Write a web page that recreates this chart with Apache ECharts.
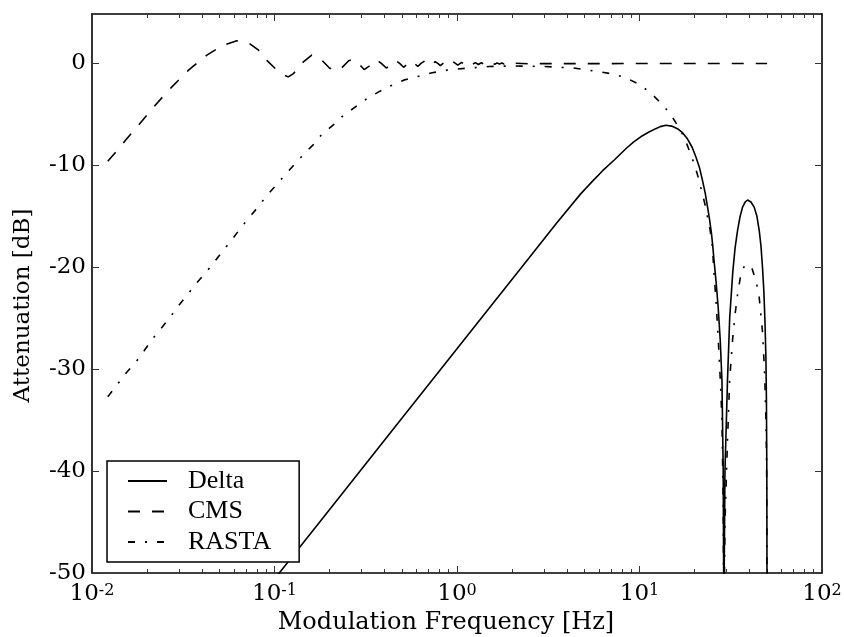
<!DOCTYPE html>
<html>
<head>
<meta charset="utf-8">
<script src="https://cdn.jsdelivr.net/npm/echarts@6/dist/echarts.min.js"></script>
<style>
html,body{margin:0;padding:0;background:#fff;}
#chart{width:844px;height:637px;}
</style>
</head>
<body>
<div id="chart"></div>
<script>
// ---- data ----
const seriesNames = ['Delta', 'CMS', 'RASTA'];

const deltaFreq = [0.0122, 0.09, 0.1062, 0.2, 0.5, 1.0, 2.53, 3.5, 4.76, 5.5, 6.3, 7.25, 8.5, 9.3, 10.16, 11.2, 12.27, 13.0, 13.93, 15.0, 16.14, 17.2, 18.3, 19.4, 20.4, 21.3, 22.15, 22.9, 23.6, 24.2, 24.8, 25.2, 25.6, 26.3, 27.0, 27.7, 28.3, 28.75, 28.95, 29.0, 29.05, 29.4, 30.35, 31.2, 32.4, 33.4, 34.45, 35.5, 36.7, 37.9, 39.1, 40.8, 42.5, 44.0, 45.3, 46.3, 47.2, 48.0, 48.7, 49.3, 49.6, 49.85, 49.97, 50.0];
const deltaDb   = [-71, -51.6, -50.0, -43.8, -34.8, -28.0, -18.9, -15.7, -12.8, -11.6, -10.5, -9.5, -8.3, -7.7, -7.2, -6.75, -6.4, -6.2, -6.07, -6.15, -6.4, -6.8, -7.4, -8.2, -9.2, -10.2, -11.5, -12.7, -14.1, -15.3, -16.7, -17.9, -19.3, -21.5, -24.0, -27.2, -31.1, -40.0, -52.0, -80, -52.0, -40.0, -31.1, -25.0, -20.6, -18.1, -16.4, -15.1, -14.1, -13.6, -13.4, -13.6, -14.1, -15.0, -16.4, -17.9, -20.0, -22.3, -25.3, -29.0, -33.0, -40.0, -52.0, -80];

const cmsFreq = [0.0122, 0.0138, 0.0155, 0.0183, 0.0222, 0.0274, 0.0338, 0.0426, 0.0525, 0.0622, 0.0736, 0.0818, 0.0908, 0.1009, 0.11, 0.119, 0.127, 0.144, 0.16, 0.18, 0.2, 0.215, 0.23, 0.255, 0.268, 0.285, 0.31, 0.335, 0.362, 0.385, 0.41, 0.435, 0.46, 0.485, 0.51, 0.535, 0.56, 0.585, 0.61, 0.635, 0.66, 0.685, 0.71, 0.735, 0.76, 0.785, 0.81, 0.86, 0.91, 0.96, 1.01, 1.06, 1.11, 1.16, 1.21, 1.26, 1.31, 1.36, 1.41, 1.46, 1.51, 1.56, 1.61, 1.66, 1.71, 1.76, 1.81, 1.86, 1.91, 1.96, 2.01, 2.5, 3, 5, 10, 20, 50];
const cmsDb   = [-9.6, -8.5, -7.4, -5.9, -4.1, -2.3, -0.66, 0.82, 1.8, 2.22, 1.9, 1.3, 0.3, -0.5, -1.05, -1.32, -1.0, 0.16, 0.82, 0.4, -0.45, -0.7, -0.55, 0.26, 0.42, 0.1, -0.6, -0.2, 0.35, 0.0, -0.45, -0.1, 0.3, 0.0, -0.38, -0.05, 0.25, 0.0, -0.3, 0.0, 0.2, 0.0, -0.25, 0.0, 0.16, 0.0, -0.22, 0.14, -0.18, 0.12, -0.16, 0.1, -0.14, 0.09, -0.12, 0.08, -0.11, 0.07, -0.1, 0.06, -0.09, 0.05, -0.08, 0.05, -0.07, 0.04, -0.06, 0.04, -0.05, 0.03, -0.05, -0.03, -0.02, -0.02, -0.01, 0, 0];

const rastaFreq = [0.0122, 0.01245, 0.0139, 0.0155, 0.0174, 0.0193, 0.0215, 0.0239, 0.0268, 0.0297, 0.0333, 0.0372, 0.0417, 0.0467, 0.0521, 0.0584, 0.0649, 0.0721, 0.0811, 0.0908, 0.1019, 0.1146, 0.1284, 0.1444, 0.1638, 0.182, 0.2109, 0.2393, 0.2775, 0.3216, 0.3724, 0.441, 0.5106, 0.6171, 0.731, 0.8837, 1.0, 1.5, 2.0, 3.0, 4.35, 6.0, 7.25, 8.59, 9.95, 11.5, 13.08, 14.71, 16.14, 17.56, 18.7, 19.93, 20.96, 21.87, 22.8, 23.6, 24.4, 25.1, 25.6, 26.3, 27.0, 27.8, 28.3, 28.75, 28.95, 29.0, 29.05, 29.4, 30.35, 31.2, 32.4, 33.4, 34.45, 36.0, 37.5, 39.3, 41.5, 42.5, 43.5, 45.3, 47.2, 48.5, 49.3, 49.7, 49.9, 49.97, 50.0];
const rastaDb   = [-32.7, -32.5, -31.4, -30.3, -29.3, -28.2, -27.0, -26.0, -24.9, -23.8, -22.7, -21.6, -20.6, -19.5, -18.4, -17.3, -16.2, -15.2, -14.1, -12.95, -11.97, -10.9, -9.93, -8.92, -7.94, -6.95, -6.0, -5.08, -4.27, -3.44, -2.79, -2.13, -1.64, -1.25, -0.92, -0.66, -0.55, -0.3, -0.25, -0.3, -0.45, -0.82, -1.05, -1.48, -2.05, -2.89, -3.87, -4.92, -6.07, -7.2, -8.5, -9.83, -11.15, -12.46, -13.77, -15.1, -16.4, -18.0, -20.6, -23.5, -27.0, -31.5, -35.0, -43.0, -54.0, -80, -55.0, -45.0, -37.0, -31.0, -27.0, -24.6, -22.7, -20.6, -19.9, -19.7, -20.2, -20.8, -21.3, -23.0, -26.3, -30.5, -35.0, -39.0, -46.0, -56.0, -80];

const xMajorTicks = [0.01, 0.1, 1, 10, 100];
const xMajorExp = ['-2', '-1', '0', '1', '2'];
const xMinorTicks = [0.02,0.03,0.04,0.05,0.06,0.07,0.08,0.09, 0.2,0.3,0.4,0.5,0.6,0.7,0.8,0.9, 2,3,4,5,6,7,8,9, 20,30,40,50,60,70,80,90];
const yTicks = [-50, -40, -30, -20, -10, 0];

// ---- chart ----
const FONT = 'DejaVu Serif';
const LEGEND_FONT = 'Liberation Serif';
const chart = echarts.init(document.getElementById('chart'), null, {renderer: 'canvas'});

function pairs(xs, ys) { return xs.map((x, i) => [x, ys[i]]); }

const frameLine = {show: true, onZero: false, lineStyle: {color: '#000', width: 1.6}};
const noLine = {show: false, onZero: false};
const majorTick = {show: true, inside: true, length: 7, lineStyle: {color: '#333', width: 1}, customValues: xMajorTicks};
const minorTickStyle = {show: true, inside: true, length: 4, lineStyle: {color: '#333', width: 1}, customValues: xMinorTicks};

const baseX = {type: 'log', logBase: 10, min: 0.01, max: 100, gridIndex: 0, splitLine: {show: false}, minorTick: {show: false}, minorSplitLine: {show: false}};

const option = {
  animation: false,
  backgroundColor: '#fff',
  grid: {left: 92, top: 14, right: 22, bottom: 64, containLabel: false, outerBoundsMode: 'none'},
  xAxis: [
    Object.assign({}, baseX, {
      position: 'bottom',
      axisLine: frameLine,
      axisTick: majorTick,
      axisLabel: {
        show: true, margin: 10, customValues: xMajorTicks,
        formatter: function (v) {
          const i = xMajorTicks.findIndex(t => Math.abs(t - v) / t < 1e-6);
          return i < 0 ? '' : '{b|10}{s|' + xMajorExp[i] + '}';
        },
        rich: {
          b: {fontFamily: FONT, fontSize: 23, lineHeight: 23, color: '#000', verticalAlign: 'bottom', padding: [11, 0, 0, 0]},
          s: {fontFamily: FONT, fontSize: 16, lineHeight: 16, color: '#000', verticalAlign: 'top'}
        }
      },
      name: 'Modulation Frequency [Hz]', nameLocation: 'middle', nameGap: 38,
      nameTextStyle: {fontFamily: FONT, fontSize: 24, color: '#000', padding: [0, 22, 0, 0]}
    }),
    Object.assign({}, baseX, {position: 'bottom', axisLine: noLine, axisTick: minorTickStyle, axisLabel: {show: false}}),
    Object.assign({}, baseX, {position: 'top', axisLine: frameLine, axisTick: majorTick, axisLabel: {show: false}}),
    Object.assign({}, baseX, {position: 'top', axisLine: noLine, axisTick: minorTickStyle, axisLabel: {show: false}})
  ],
  yAxis: [
    {
      type: 'value', min: -50, max: 4.85, interval: 10, position: 'left',
      splitLine: {show: false},
      axisLine: frameLine,
      axisTick: {show: true, inside: true, length: 7, lineStyle: {color: '#333', width: 1}, customValues: yTicks},
      axisLabel: {
        margin: 6, customValues: yTicks,
        fontFamily: FONT, fontSize: 23, color: '#000',
        formatter: v => (yTicks.indexOf(v) >= 0 ? String(v) : '')
      },
      name: 'Attenuation [dB]', nameLocation: 'middle', nameGap: 57, nameRotate: 90,
      nameTextStyle: {fontFamily: FONT, fontSize: 23, color: '#000', padding: [0, 24, 0, 0]}
    },
    {
      type: 'value', min: -50, max: 4.85, interval: 10, position: 'right',
      splitLine: {show: false},
      axisLine: frameLine,
      axisTick: {show: true, inside: true, length: 7, lineStyle: {color: '#333', width: 1}, customValues: yTicks},
      axisLabel: {show: false}
    }
  ],
  legend: {
    data: seriesNames,
    orient: 'vertical',
    left: 107, top: 461,
    padding: [7, 28, 7, 20],
    itemWidth: 39, itemHeight: 14, itemGap: 4.5,
    backgroundColor: '#fff',
    borderColor: '#000', borderWidth: 1.5, borderRadius: 0,
    itemStyle: {opacity: 0},
    textStyle: {fontFamily: LEGEND_FONT, fontSize: 26, color: '#000', padding: [0, 0, 0, 16]}
  },
  series: [
    {
      name: seriesNames[0], type: 'line', xAxisIndex: 0, yAxisIndex: 0,
      data: pairs(deltaFreq, deltaDb), symbol: 'none', showSymbol: false, clip: true,
      lineStyle: {color: '#000', width: 1.6, type: 'solid'}, itemStyle: {color: '#000'}, z: 3
    },
    {
      name: seriesNames[1], type: 'line', xAxisIndex: 0, yAxisIndex: 0,
      data: pairs(cmsFreq, cmsDb), symbol: 'none', showSymbol: false, clip: true,
      lineStyle: {color: '#000', width: 1.6, type: [12, 12]}, itemStyle: {color: '#000'}, z: 3
    },
    {
      name: seriesNames[2], type: 'line', xAxisIndex: 0, yAxisIndex: 0,
      data: pairs(rastaFreq, rastaDb), symbol: 'none', showSymbol: false, clip: true,
      lineStyle: {color: '#000', width: 1.6, type: [7, 10, 2, 10]}, itemStyle: {color: '#000'}, z: 3
    }
  ]
};
chart.setOption(option);
</script>
</body>
</html>
